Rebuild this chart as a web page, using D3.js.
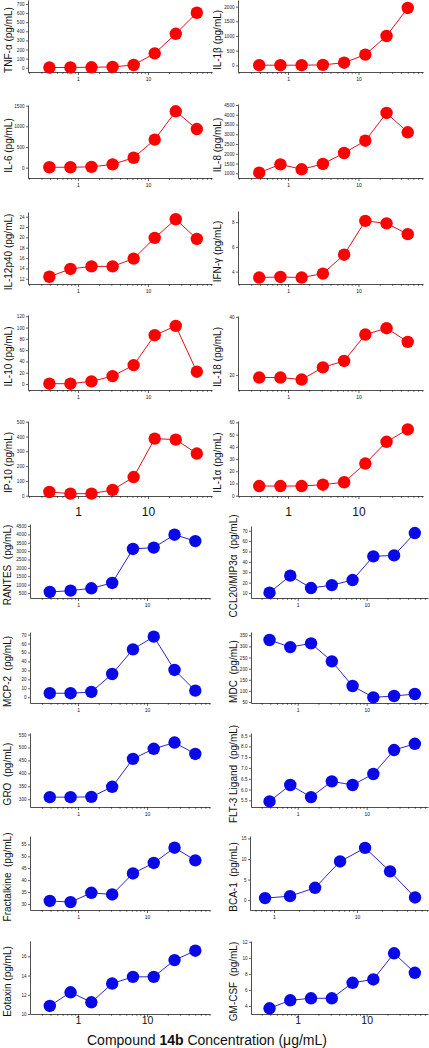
<!DOCTYPE html>
<html><head><meta charset="utf-8">
<script src="https://cdn.jsdelivr.net/npm/d3@7"></script>
<style>
html,body{margin:0;padding:0;background:#fff;}
svg{display:block;font-family:"Liberation Sans",Arial,sans-serif;}
</style></head>
<body><svg id="chart" width="429" height="1048"></svg>
<script>
// ---------- DATA ----------
const conc = [0.39, 0.78, 1.56, 3.125, 6.25, 12.5, 25, 50];
const concBCA = [0.78, 1.56, 3.125, 6.25, 12.5, 25, 50];

const panelNames = [
  "TNF-α (pg/mL)", "IL-1β (pg/mL)",
  "IL-6 (pg/mL)", "IL-8 (pg/mL)",
  "IL-12p40 (pg/mL)", "IFN-γ (pg/mL)",
  "IL-10 (pg/mL)", "IL-18 (pg/mL)",
  "IP-10 (pg/mL)", "IL-1α (pg/mL)",
  "RANTES  (pg/mL)", "CCL20/MIP3α  (pg/mL)",
  "MCP-2  (pg/mL)", "MDC  (pg/mL)",
  "GRO  (pg/mL)", "FLT-3 Ligand  (pg/mL)",
  "Fractalkine  (pg/mL)", "BCA-1  (pg/mL)",
  "Eotaxin (pg/mL)", "GM-CSF  (pg/mL)"
];

const tnfA = [2, 3, 5, 9, 30, 158, 373, 604];
const il1b = [5, 5, 5, 15, 90, 365, 1000, 1955];
const il6 = [10, 10, 20, 80, 240, 680, 1365, 935];
const il8 = [1035, 1460, 1205, 1480, 2040, 2670, 4090, 3100];
const il12p40 = [12.4, 13.9, 14.4, 14.4, 15.9, 19.9, 23.5, 19.7];
const ifnG = [3.52, 3.57, 3.52, 3.84, 5.37, 8.1, 7.9, 7.03];
const il10 = [0.6, 0.6, 4.7, 14, 33.5, 86.5, 103, 21.8];
const il18 = [19.1, 19.1, 18.4, 22.6, 24.8, 33.9, 36.1, 31.4];
const ip10 = [25, 14, 14, 39, 126, 386, 379, 285];
const il1a = [7.9, 7.9, 7.9, 9.0, 11, 26.3, 44.1, 54.2];
const rantes = [560, 640, 780, 1100, 3130, 3210, 3980, 3600];
const ccl20 = [10.3, 26.7, 14.8, 17.6, 22.5, 45.3, 46.2, 67.7];
const mcp2 = [4.5, 4.5, 5.9, 26, 53.5, 67.7, 30.5, 7.4];
const mdc = [329, 297, 314, 233, 122, 71, 77, 86];
const gro = [308, 308, 309, 348, 456, 495, 519, 475];
const flt3 = [5.45, 6.21, 5.65, 6.38, 6.21, 6.72, 7.83, 8.12];
const fractalkine = [31.3, 30.8, 34.7, 34.0, 42.8, 47.2, 53.6, 48.3];
const bca1 = [0.49, 0.97, 3.0, 9.4, 12.7, 7.0, 0.65];
const eotaxin = [10.84, 12.26, 11.22, 13.17, 13.87, 13.87, 15.61, 16.59];
const gmcsf = [3.71, 4.71, 4.96, 4.96, 6.89, 7.31, 10.57, 8.14];

const seriesValues = [tnfA, il1b, il6, il8, il12p40, ifnG, il10, il18, ip10, il1a,
  rantes, ccl20, mcp2, mdc, gro, flt3, fractalkine, bca1, eotaxin, gmcsf];
const seriesConc = seriesValues.map((v, i) => i === 17 ? concBCA : conc);

const yTickValues = [
  [0, 100, 200, 300, 400, 500, 600, 700], [0, 500, 1000, 1500, 2000],
  [0, 500, 1000, 1500], [1000, 1500, 2000, 2500, 3000, 3500, 4000, 4500],
  [12, 14, 16, 18, 20, 22, 24], [4, 6, 8],
  [0, 20, 40, 60, 80, 100, 120], [20, 40],
  [0, 100, 200, 300, 400, 500], [0, 10, 20, 30, 40, 50, 60],
  [500, 1000, 1500, 2000, 2500, 3000, 3500, 4000, 4500], [10, 20, 30, 40, 50, 60, 70],
  [0, 10, 20, 30, 40, 50, 60, 70], [50, 100, 150, 200, 250, 300, 350],
  [300, 350, 400, 450, 500, 550], [5.5, 6.0, 6.5, 7.0, 7.5, 8.0, 8.5],
  [30, 35, 40, 45, 50, 55], [0, 5, 10, 15],
  [10, 12, 14, 16], [4, 6, 8, 10, 12]
];
const yDomains = [
  [-47, 744], [-227, 2227],
  [-250, 1517], [760, 4550],
  [11, 24.9], [3, 8.9],
  [-10.6, 122.3], [14.8, 40.3],
  [-2, 505], [-0.25, 61.1],
  [200, 4620], [5.2, 74.5],
  [-6.4, 72.9], [45.5, 365],
  [270, 556], [5.19, 8.62],
  [27.5, 58.5], [-2.4, 15.6],
  [10, 17.6], [3, 12.1]
];
const xMajorTicks = [1, 10];
const xMinorTicks = [0.2, 0.3, 0.4, 0.5, 0.6, 0.7, 0.8, 0.9, 2, 3, 4, 5, 6, 7, 8, 9, 20, 30, 40, 50, 60, 70, 80];
const xTitleParts = ["Compound ", "14b", " Concentration (μg/mL)"];

// ---------- LAYOUT ----------
// column frames: [x0, x1, xDomainMin, xDomainMax, labelX]
const colFrames = {
  redL: [28, 212, 0.193, 82.4, 8],
  redR: [238, 423, 0.195, 82.3, 217],
  bluL: [30, 210, 0.2015, 81.6, 7],
  bluR: [251, 428, 0.21, 77.6, 233],
  bca:  [250, 428, 0.514, 71.6, 233]
};
// row frames per panel: [top, bottom]
const rowFrames = [
  [0, 72], [0, 72],
  [105, 178], [104, 178],
  [212, 284], [211, 284],
  [315, 390], [316, 390],
  [421, 496], [421, 496],
  [524, 598], [526, 598],
  [632, 703], [632, 703],
  [733, 807], [733, 807],
  [836, 910], [836, 910],
  [941, 1014], [941, 1014]
];
const colOf = i => {
  const red = i < 10, left = i % 2 === 0;
  if (i === 17) return colFrames.bca;
  if (red) return left ? colFrames.redL : colFrames.redR;
  return left ? colFrames.bluL : colFrames.bluR;
};
// large x tick labels: [fontSize, padding]
const bigXLabels = i => (i === 8 || i === 9) ? [12, 8] : (i === 18 || i === 19) ? [10.5, 0] : null;

const svg = d3.select("#chart");

seriesValues.forEach((vals, i) => {
  const [x0, x1, dmin, dmax, labelX] = colOf(i);
  const [top, bottom] = rowFrames[i];
  const red = i < 10;
  const color = red ? "#ff0000" : "#0808e8";
  const lineColor = red ? "#e01020" : "#2828c8";
  const x = d3.scaleLog().domain([dmin, dmax]).range([x0, x1]);
  const y = d3.scaleLinear().domain(yDomains[i]).range([bottom, top]);
  const g = svg.append("g");

  // x axis major
  const big = bigXLabels(i);
  const ax = g.append("g").attr("transform", `translate(0,${bottom})`)
    .call(d3.axisBottom(x).tickValues(xMajorTicks).tickSize(3).tickSizeOuter(0)
      .tickPadding(big ? big[1] : 2).tickFormat(d3.format("d")));
  ax.selectAll("text").attr("font-size", big ? big[0] : 5).attr("fill", "#111");
  const axm = g.append("g").attr("transform", `translate(0,${bottom})`)
    .call(d3.axisBottom(x).tickValues(xMinorTicks.filter(t => t >= dmin && t <= dmax))
      .tickSize(1.8).tickSizeOuter(0).tickFormat(""));
  [ax, axm].forEach(a => {
    a.select(".domain").attr("stroke", "#222").attr("stroke-width", 0.8);
    a.selectAll("line").attr("stroke", "#222").attr("stroke-width", 0.7);
  });
  axm.select(".domain").remove();

  // y axis
  const ay = g.append("g").attr("transform", `translate(${x0},0)`)
    .call(d3.axisLeft(y).tickValues(yTickValues[i]).tickSize(2).tickSizeOuter(0).tickPadding(1.5)
      .tickFormat(i === 15 ? d3.format(".1f") : d3.format("d")));
  ay.select(".domain").attr("stroke", "#222").attr("stroke-width", 0.8);
  ay.selectAll("line").attr("stroke", "#222").attr("stroke-width", 0.7);
  ay.selectAll("text").attr("font-size", 4.6).attr("fill", "#222");

  // y label
  g.append("text")
    .attr("transform", `translate(${labelX},${(top + bottom) / 2 + 4}) rotate(-90)`)
    .attr("text-anchor", "middle").attr("dominant-baseline", "central")
    .attr("font-size", 10).attr("fill", "#111")
    .style("white-space", "pre")
    .text(panelNames[i]);

  const pts = vals.map((v, k) => [seriesConc[i][k], v]);
  g.append("path").datum(pts)
    .attr("fill", "none").attr("stroke", lineColor).attr("stroke-width", 1)
    .attr("d", d3.line().x(d => x(d[0])).y(d => y(d[1])));
  g.selectAll("circle").data(pts).join("circle")
    .attr("cx", d => x(d[0])).attr("cy", d => y(d[1]))
    .attr("r", 6.2).attr("fill", color);
});

// overall x title
const t = svg.append("text").attr("x", 207).attr("y", 1044.5)
  .attr("text-anchor", "middle").attr("font-size", 14).attr("fill", "#111");
xTitleParts.forEach((p, k) => t.append("tspan").attr("font-weight", k === 1 ? "bold" : "normal")
  .style("white-space", "pre").text(p));
</script></body></html>
